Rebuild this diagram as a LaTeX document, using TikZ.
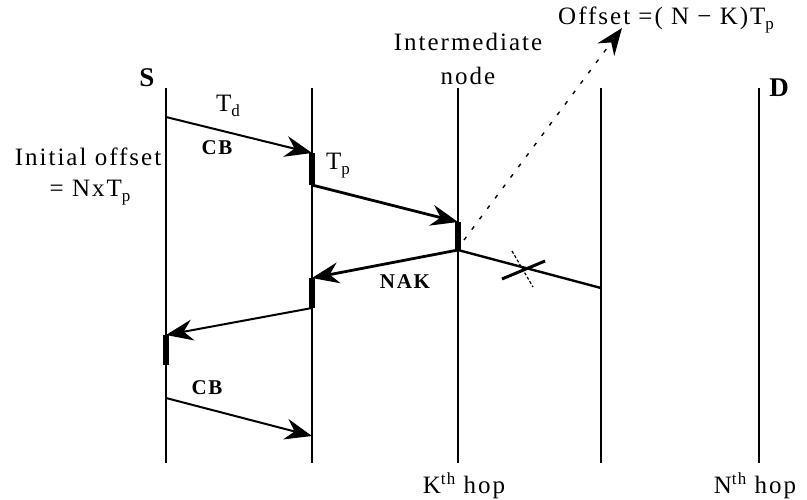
\documentclass[tikz,border=0pt]{standalone}
\usepackage{fontspec}
\setmainfont[LetterSpace=8]{Liberation Serif}
\usetikzlibrary{arrows.meta}
\newcommand{\lowidx}[1]{\raisebox{-0.45ex}{\fontsize{17}{17}\selectfont #1}}
\newcommand{\highidx}[1]{\raisebox{0.8ex}{\fontsize{17}{17}\selectfont #1}}

\begin{document}
\begin{tikzpicture}[x=1pt, y=-1pt,
    lifeline/.style={line width=1.4pt},
    msg/.style={line width=2pt, -{Stealth[length=27pt,width=21pt,inset=9pt]}},
    heavymsg/.style={msg, line width=2.8pt},
    busy/.style={line width=6pt},
    lbl/.style={font=\fontsize{25}{28}\selectfont, inner sep=0pt},
    boldlbl/.style={font=\fontsize{21}{24}\selectfont\bfseries, inner sep=0pt},
    >=stealth
  ]
    \useasboundingbox (0,0) rectangle (807,499);

    % Lifelines
    \foreach \x/\n in {166/src,312/hopa,458/hopk,601/hopb,759/dst} {
      \coordinate (\n top) at (\x,88);
      \coordinate (\n bot) at (\x,463);
      \draw[lifeline] (\n top) -- (\n bot);
    }

    % Event points
    \coordinate (cb1 start) at (166,117);
    \coordinate (cb1 end) at (312,153);
    \coordinate (fwd start) at (312,185);
    \coordinate (fwd end) at (458,222);
    \coordinate (nak start) at (458,250);
    \coordinate (nak end) at (312,278);
    \coordinate (back start) at (312,308);
    \coordinate (back end) at (166,335);
    \coordinate (hold end) at (166,365);
    \coordinate (lost end) at (601,288);
    \coordinate (cb2 start) at (166,398);
    \coordinate (cb2 end) at (312,436);
    \coordinate (dot start) at (464,240);
    \coordinate (offset tip) at (622,28);
    \coordinate (cross) at (523,269);

    % Messages
    \draw[msg] (cb1 start) -- (cb1 end);
    \draw[heavymsg] (fwd start) -- (fwd end);
    \draw[heavymsg] (nak start) -- (nak end);
    \draw[msg] (back start) -- (back end);
    \draw[line width=2.4pt] (nak start) -- (lost end);
    \draw[msg] (cb2 start) -- (cb2 end);

    % Processing delays
    \draw[busy] (cb1 end) -- (fwd start);
    \draw[busy] (fwd end) -- (nak start);
    \draw[busy] (nak end) -- (back start);
    \draw[busy] (back end) -- (hold end);

    % Lost packet
    \draw[line width=3pt] (cross) ++(-21,10) -- ++(43,-18);
    \draw[line width=1.2pt, dash pattern=on 3pt off 2pt] (cross) ++(-11,-18) -- ++(21,36);

    % Offset pointer
    \draw[line width=1.4pt, dash pattern=on 4pt off 9pt, -{Stealth[length=27pt,width=21pt,inset=9pt]}]
      (dot start) -- (offset tip);

    % Labels
    \node[lbl, font=\fontsize{27}{30}\selectfont\bfseries] (lsrc) at (147,78) {S};
    \node[lbl, font=\fontsize{27}{30}\selectfont\bfseries] (ldst) at (779,88) {D};
    \node[lbl] (ltd) at (228,106) {T\lowidx{d}};
    \node[boldlbl] (lcb1) at (217,148) {CB};
    \node[lbl] (ltp) at (338,166) {T\lowidx{p}};
    \node[lbl] (linit) at (88,157) {Initial offset};
    \node[lbl] (lnxt) at (90,193) {= NxT\lowidx{p}};
    \node[lbl] (linter) at (468,42) {Intermediate};
    \node[lbl] (lnode) at (468,76) {node};
    \node[lbl, anchor=west] (loffset) at (558,20) {Offset =( N − K)T\lowidx{p}};
    \node[boldlbl] (lnak) at (405,282) {NAK};
    \node[boldlbl] (lcb2) at (207,388) {CB};
    \node[lbl] (lkth) at (464,486) {K\highidx{th} hop};
    \node[lbl] (lnth) at (755,486) {N\highidx{th} hop};
\end{tikzpicture}
\end{document}
